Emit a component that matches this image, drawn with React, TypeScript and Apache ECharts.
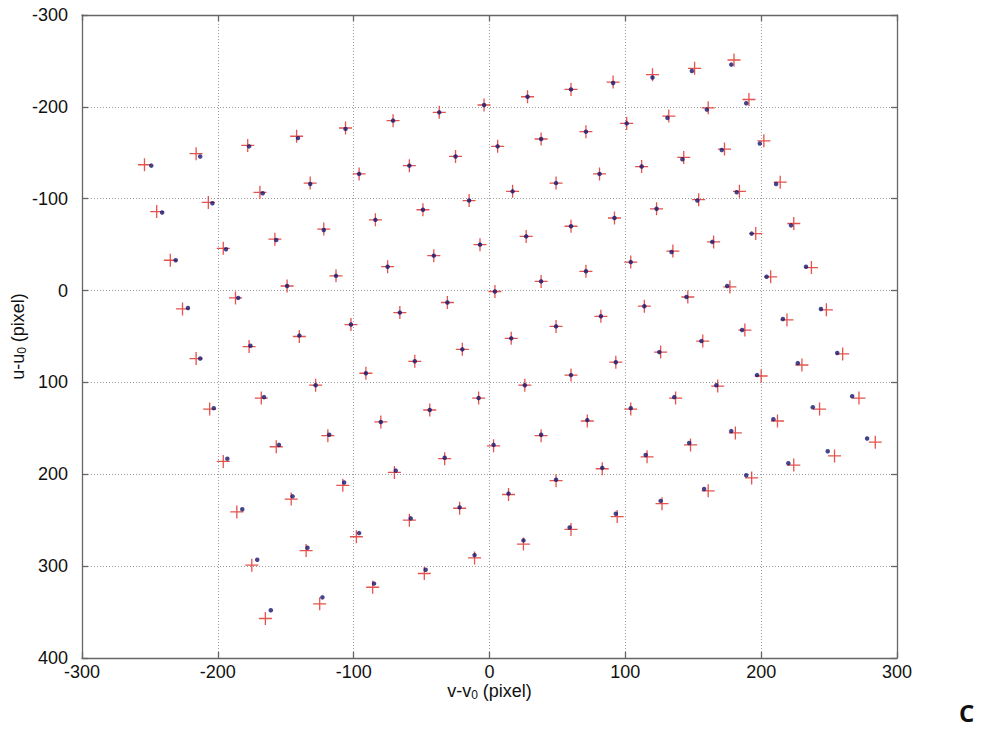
import React, { useEffect, useRef } from "react";
import * as echarts from "echarts";

// Red "+" markers (measured points), row by row
const redV = [
  -254, -216, -178, -142, -106, -71, -37, -4, 28, 60, 91, 120, 151, 180,
  -245, -207, -169, -132, -96, -59, -25, 6, 38, 71, 101, 132, 161, 191,
  -235, -196, -158, -122, -84, -49, -15, 17, 49, 81, 112, 143, 173, 202,
  -226, -187, -149, -113, -75, -41, -7, 27, 60, 92, 123, 154, 184, 214,
  -216, -177, -140, -102, -66, -31, 4, 38, 71, 104, 135, 165, 196, 224,
  -206, -168, -128, -91, -55, -20, 16, 49, 82, 114, 146, 177, 207, 237,
  -196, -157, -119, -80, -44, -8, 26, 60, 93, 126, 157, 188, 219, 248,
  -186, -146, -108, -70, -33, 3, 38, 72, 104, 137, 168, 200, 230, 260,
  -175, -135, -98, -59, -22, 14, 49, 83, 116, 148, 181, 212, 243, 272,
  -165, -125, -86, -48, -11, 25, 60, 94, 127, 161, 193, 224, 254, 284,
];
const redU = [
  -137, -149, -158, -168, -177, -185, -194, -202, -211, -219, -227, -235, -242, -251,
  -86, -96, -107, -117, -127, -136, -146, -157, -165, -173, -182, -190, -199, -208,
  -33, -46, -56, -67, -77, -88, -98, -108, -117, -127, -135, -145, -154, -163,
  20, 8, -5, -16, -26, -38, -50, -59, -70, -79, -89, -99, -108, -118,
  74, 61, 50, 37, 24, 13, 1, -10, -21, -31, -43, -53, -62, -73,
  129, 117, 103, 90, 77, 64, 52, 39, 28, 17, 7, -4, -15, -25,
  186, 170, 158, 143, 130, 117, 103, 92, 78, 67, 55, 43, 32, 21,
  241, 227, 212, 198, 183, 169, 158, 142, 129, 117, 104, 93, 81, 69,
  299, 283, 268, 250, 237, 222, 207, 194, 181, 168, 155, 142, 129, 117,
  357, 341, 323, 308, 291, 276, 260, 246, 232, 218, 204, 190, 180, 165,
];

// Blue dots (reprojected points), row by row
const blueV = [
  -249, -213, -177, -141, -106, -71, -37, -4, 28, 60, 91, 120, 149, 178,
  -241, -204, -167, -132, -96, -59, -25, 6, 38, 71, 101, 131, 160, 189,
  -231, -194, -157, -122, -84, -49, -15, 17, 49, 81, 112, 142, 171, 199,
  -222, -185, -149, -113, -75, -41, -7, 27, 60, 92, 123, 153, 182, 211,
  -213, -176, -140, -102, -66, -31, 4, 38, 71, 104, 134, 164, 193, 222,
  -203, -166, -128, -91, -55, -20, 16, 49, 82, 114, 145, 175, 204, 233,
  -193, -155, -118, -80, -44, -8, 26, 60, 93, 125, 156, 186, 216, 244,
  -182, -145, -107, -69, -33, 3, 38, 72, 104, 136, 167, 197, 227, 256,
  -171, -134, -96, -58, -22, 14, 49, 83, 115, 147, 178, 209, 238, 267,
  -161, -123, -85, -47, -11, 25, 59, 93, 126, 158, 189, 220, 249, 278,
];
const blueU = [
  -136, -146, -157, -166, -176, -185, -194, -202, -211, -219, -226, -232, -239, -246,
  -85, -95, -106, -116, -127, -136, -146, -157, -165, -173, -182, -188, -197, -204,
  -33, -45, -55, -66, -77, -88, -98, -108, -117, -127, -135, -143, -153, -160,
  19, 8, -5, -16, -26, -38, -50, -59, -70, -79, -89, -98, -107, -116,
  74, 60, 49, 37, 24, 13, 1, -10, -21, -31, -42, -53, -62, -71,
  128, 116, 103, 90, 77, 64, 52, 39, 28, 17, 7, -5, -15, -26,
  183, 168, 157, 143, 130, 117, 103, 92, 78, 67, 55, 43, 31, 20,
  238, 224, 209, 196, 182, 168, 157, 141, 128, 116, 103, 92, 79, 68,
  293, 280, 264, 248, 236, 221, 206, 193, 179, 166, 153, 140, 127, 115,
  348, 334, 319, 304, 288, 272, 258, 243, 229, 216, 201, 188, 175, 161,
];

const xMin = -300;
const xMax = 300;
const yMin = -300;
const yMax = 400;
const tickStep = 100;

const PLUS =
  "path://M4.5,0 H5.5 V4.5 H10 V5.5 H5.5 V10 H4.5 V5.5 H0 V4.5 H4.5 Z";

export default function App() {
  const ref = useRef<HTMLDivElement>(null);

  useEffect(() => {
    if (!ref.current) return;
    const chart = echarts.init(ref.current, null, { renderer: "svg" });
    const font = "'Liberation Sans', Arial, sans-serif";
    const frame = "#666666";
    const redData = redV.map((v, i) => [v, redU[i]]);
    const blueData = blueV.map((v, i) => [v, blueU[i]]);
    const subRich = {
      s: { fontSize: 12, verticalAlign: "bottom", padding: [9, 0, 0, 0], color: "#111", fontFamily: font },
    };

    chart.setOption({
      animation: false,
      backgroundColor: "#ffffff",
      textStyle: { fontFamily: font },
      grid: {
        left: 82,
        right: 88,
        top: 15,
        bottom: 73,
        containLabel: false,
        outerBoundsMode: "none",
      },
      xAxis: [
        {
          type: "value",
          min: xMin,
          max: xMax,
          interval: tickStep,
          position: "bottom",
          axisLine: { show: true, onZero: false, lineStyle: { color: frame, width: 1.3 } },
          axisTick: { show: true, inside: true, length: 6, lineStyle: { color: frame, width: 1.3 } },
          axisLabel: { color: "#111", fontSize: 18, margin: 5, fontFamily: font },
          splitLine: { show: true, lineStyle: { color: "#9a9a9a", type: [1, 2], width: 1 } },
          name: "v-v{s|0} (pixel)",
          nameLocation: "middle",
          nameGap: 22,
          nameMoveOverlap: false,
          nameTextStyle: { color: "#111", fontSize: 18, fontFamily: font, rich: subRich },
        },
        {
          type: "value",
          min: xMin,
          max: xMax,
          interval: tickStep,
          position: "top",
          axisLine: { show: true, onZero: false, lineStyle: { color: frame, width: 1.3 } },
          axisTick: { show: true, inside: true, length: 6, lineStyle: { color: frame, width: 1.3 } },
          axisLabel: { show: false },
          splitLine: { show: false },
        },
      ],
      yAxis: [
        {
          type: "value",
          inverse: true,
          min: yMin,
          max: yMax,
          interval: tickStep,
          position: "left",
          axisLine: { show: true, onZero: false, lineStyle: { color: frame, width: 1.3 } },
          axisTick: { show: true, inside: true, length: 6, lineStyle: { color: frame, width: 1.3 } },
          axisLabel: { color: "#111", fontSize: 18, margin: 14, fontFamily: font },
          splitLine: { show: true, lineStyle: { color: "#9a9a9a", type: [1, 2], width: 1 } },
          name: "u-u{s|0} (pixel)",
          nameLocation: "middle",
          nameGap: 54,
          nameMoveOverlap: false,
          nameRotate: 90,
          nameTextStyle: { color: "#111", fontSize: 18, fontFamily: font, rich: subRich },
        },
        {
          type: "value",
          inverse: true,
          min: yMin,
          max: yMax,
          interval: tickStep,
          position: "right",
          axisLine: { show: true, onZero: false, lineStyle: { color: frame, width: 1.3 } },
          axisTick: { show: true, inside: true, length: 6, lineStyle: { color: frame, width: 1.3 } },
          axisLabel: { show: false },
          splitLine: { show: false },
        },
      ],
      series: [
        {
          name: "measured",
          type: "scatter",
          xAxisIndex: 0,
          yAxisIndex: 0,
          symbol: PLUS,
          symbolSize: 13,
          itemStyle: { color: "#e0352e", opacity: 0.85 },
          data: redData,
          z: 2,
        },
        {
          name: "reprojected",
          type: "scatter",
          xAxisIndex: 0,
          yAxisIndex: 0,
          symbol: "circle",
          symbolSize: 4.5,
          itemStyle: { color: "#17176e" },
          data: blueData,
          z: 3,
        },
      ],
      graphic: [
        {
          type: "text",
          left: 959,
          top: 700,
          style: {
            text: "C",
            fontSize: 24,
            fontWeight: "bold",
            fontFamily: "'Open Sans', 'Liberation Sans', sans-serif",
            fill: "#111",
          },
        },
      ],
    });

    return () => chart.dispose();
  }, []);

  return (
    <div
      ref={ref}
      style={{ position: "absolute", left: 0, top: 0, width: 985, height: 731 }}
    />
  );
}
